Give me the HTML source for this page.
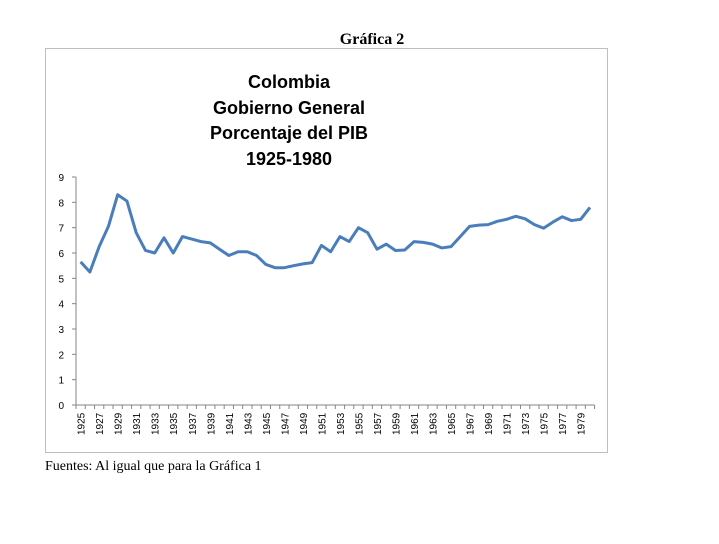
<!DOCTYPE html>
<html><head><meta charset="utf-8"><style>
body{margin:0;background:#fff;width:719px;height:544px;overflow:hidden}
svg{display:block}
</style></head><body>
<svg width="719" height="544">
<text x="372" y="44" text-anchor="middle" font-family="Liberation Serif, serif" font-weight="bold" font-size="16">Gráfica 2</text>
<rect x="45.5" y="48.5" width="562" height="404" fill="#fff" stroke="#bfbfbf"/>
<g font-family="Liberation Sans, sans-serif" font-weight="bold" font-size="18" text-anchor="middle">
<text x="289" y="88">Colombia</text>
<text x="289" y="114">Gobierno General</text>
<text x="289" y="139">Porcentaje del PIB</text>
<text x="289" y="165">1925-1980</text>
</g>
<g id="axes"></g>
<g id="plot"></g>
<text x="45" y="470" font-family="Liberation Serif, serif" font-size="14">Fuentes: Al igual que para la Gráfica 1</text>
</svg>
<script>
const years=[];for(let y=1925;y<=1980;y++)years.push(y);
const values=[5.65,5.25,6.25,7.05,8.3,8.05,6.8,6.1,6.0,6.6,6.0,6.65,6.55,6.45,6.4,6.15,5.9,6.05,6.05,5.9,5.55,5.42,5.42,5.5,5.57,5.62,6.3,6.05,6.65,6.45,7.0,6.8,6.15,6.35,6.1,6.12,6.45,6.42,6.35,6.2,6.25,6.65,7.05,7.1,7.12,7.25,7.33,7.45,7.35,7.12,6.98,7.22,7.43,7.28,7.33,7.8];
const yTicks=[0,1,2,3,4,5,6,7,8,9];
const NS="http://www.w3.org/2000/svg";
const x0=76,x1=594.6,y0=405,yTop=177;
const step=(x1-x0)/years.length;
const xs=i=>x0+step*(i+0.5);
const ys=v=>y0-(v/9)*(y0-yTop);
const ax=document.getElementById('axes'),pl=document.getElementById('plot');
function mk(t,a,p){const e=document.createElementNS(NS,t);for(const k in a)e.setAttribute(k,a[k]);p.appendChild(e);return e;}
const ya=mk('line',{x1:x0,y1:yTop,x2:x0,y2:y0,stroke:'#868686'},ax);


const xa=mk('line',{x1:x0,y1:y0,x2:x1,y2:y0,stroke:'#868686'},ax);


yTicks.forEach(v=>{
 mk('line',{x1:x0-4,y1:ys(v),x2:x0,y2:ys(v),stroke:'#868686'},ax);
 const t=mk('text',{x:x0-12,y:ys(v)+4,'text-anchor':'end','font-family':'Liberation Sans, sans-serif','font-size':'10'},ax);
 t.textContent=v;
 
 
});
for(let i=0;i<=years.length;i++)mk('line',{x1:x0+step*i,y1:y0,x2:x0+step*i,y2:y0+4,stroke:'#868686'},ax);
years.forEach((y,i)=>{
 if(i%2)return;
 const t=mk('text',{transform:`translate(${xs(i)+4},${y0+30}) rotate(-90)`,'font-family':'Liberation Sans, sans-serif','font-size':'10'},ax);
 t.textContent=y;
 
 
});
const p=mk('polyline',{points:values.map((v,i)=>xs(i)+','+ys(v)).join(' '),fill:'none',stroke:'#4a7ebb',"stroke-width":'3',"stroke-linejoin":'round'},pl);


</script>
</body></html>
